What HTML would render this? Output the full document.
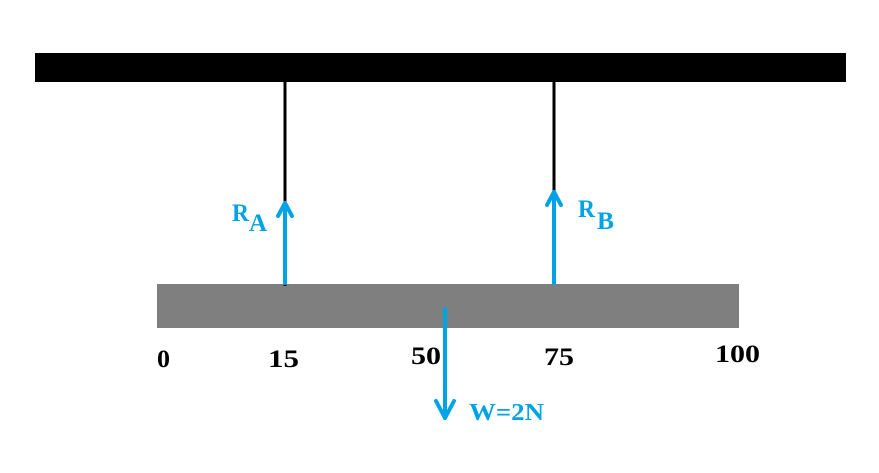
<!DOCTYPE html>
<html><head><style>body{margin:0;background:#fff}</style></head><body>
<svg width="879" height="468" xmlns="http://www.w3.org/2000/svg">
<rect x="0" y="0" width="879" height="468" fill="#fff"/>
<rect x="35" y="53" width="811" height="29" fill="#000"/>
<rect x="157" y="284" width="582" height="44" fill="#7f7f7f"/>
<line x1="285" y1="82" x2="285" y2="286" stroke="#000" stroke-width="3"/>
<line x1="554" y1="82" x2="554" y2="200" stroke="#000" stroke-width="3"/>
<g stroke="#00a2e8" stroke-width="4" fill="none" stroke-linecap="round" stroke-linejoin="round">
<line x1="285" y1="283" x2="285" y2="203"/><polyline points="278,216 285,203 292,216"/>
<line x1="554" y1="283" x2="554" y2="192"/><polyline points="547,205 554,192 561,205"/>
<line x1="445" y1="309" x2="445" y2="418"/><polyline points="436,401 445,418 454,401"/>
</g>
<g font-family="Liberation Serif, serif" font-weight="bold" fill="#00a2e8">
<text x="232" y="221" font-size="25" textLength="17" lengthAdjust="spacingAndGlyphs">R</text><text x="249" y="231" font-size="25" textLength="18" lengthAdjust="spacingAndGlyphs">A</text>
<text x="578" y="217" font-size="25" textLength="17" lengthAdjust="spacingAndGlyphs">R</text><text x="597" y="229" font-size="25" textLength="17" lengthAdjust="spacingAndGlyphs">B</text>
<text x="469" y="420" font-size="24" textLength="75" lengthAdjust="spacingAndGlyphs">W=2N</text>
</g>
<g font-family="Liberation Serif, serif" font-weight="bold" fill="#000" font-size="25">
<text x="157" y="367" textLength="13" lengthAdjust="spacingAndGlyphs">0</text>
<text x="268" y="367" textLength="31" lengthAdjust="spacingAndGlyphs">15</text>
<text x="411" y="364" textLength="30" lengthAdjust="spacingAndGlyphs">50</text>
<text x="544" y="365" textLength="30" lengthAdjust="spacingAndGlyphs">75</text>
<text x="715" y="362" textLength="45" lengthAdjust="spacingAndGlyphs">100</text>
</g>
</svg>
</body></html>
